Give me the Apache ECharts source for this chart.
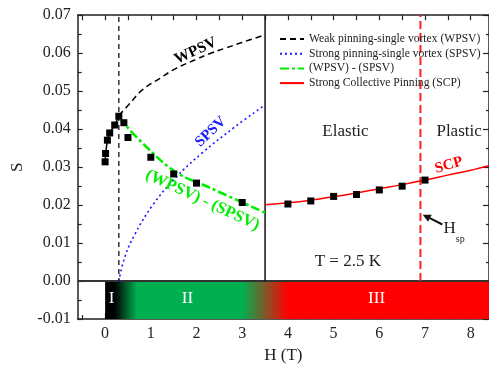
<!DOCTYPE html>
<html><head><meta charset="utf-8">
<script src="https://cdn.jsdelivr.net/npm/echarts@6/dist/echarts.min.js"></script>
<style>html,body{margin:0;padding:0;background:#fff}#c{width:489px;height:369px}</style>
</head><body><div id="c"></div>
<script>
// ---- data ----
const H_low = [0, 0.01, 0.05, 0.1, 0.21, 0.3];
const S_low = [0.0314, 0.0336, 0.0371, 0.0390, 0.0411, 0.0434];
const H_mid = [0.41, 0.5, 1.0, 1.5, 2.0, 3.0];
const S_mid = [0.0417, 0.0378, 0.0326, 0.0282, 0.0258, 0.0207];
const H_high = [4.0, 4.5, 5.0, 5.5, 6.0, 6.5, 7.0];
const S_high = [0.0203, 0.0211, 0.0223, 0.0228, 0.0240, 0.0250, 0.0266];

const H_wpsv = [0.3, 0.5, 0.82, 1.2, 1.55, 2.0, 2.27, 2.6, 2.99, 3.49];
const S_wpsv = [0.0436, 0.0462, 0.0504, 0.0534, 0.0560, 0.0584, 0.0598, 0.0612, 0.0628, 0.0648];
const H_spsv = [0.3, 0.43, 0.65, 1.04, 1.55, 2.12, 2.84, 3.5];
const S_spsv = [0.0, 0.0063, 0.0123, 0.0200, 0.0273, 0.0337, 0.0406, 0.0464];
const H_diff = [0.3, 0.82, 1.55, 2.27, 3.5];
const S_diff = [0.0431, 0.0363, 0.0287, 0.0247, 0.0180];
const H_scp = [3.5, 4, 4.5, 5, 5.5, 6, 6.5, 7, 7.5, 8, 8.4];
const S_scp = [0.0201, 0.0206, 0.0213, 0.0222, 0.0232, 0.0243, 0.0254, 0.0266, 0.0279, 0.0292, 0.0304];

const H_boundary = 3.5;   // elastic boundary
const H_vortex = 0.3;     // dashed black line
const H_sp = 6.9;         // red dashed line

const xMajor = [0, 1, 2, 3, 4, 5, 6, 7, 8];
const xMinor = [-0.5, 0.5, 1.5, 2.5, 3.5, 4.5, 5.5, 6.5, 7.5];
const xTop = [-0.5, 0, 0.5, 1, 1.5, 2, 2.5, 3, 3.5, 4, 4.5, 5, 5.5, 6, 6.5, 7, 7.5, 8];

const legendNames = ['Weak pinning-single vortex (WPSV)', 'Strong pinning-single vortex (SPSV)', '(WPSV) - (SPSV)', 'Strong Collective Pinning (SCP)'];

const X_MIN = -0.6, X_MAX = 8.4, Y_MIN = -0.01, Y_MAX = 0.07;

const zip = (a, b) => a.map((v, i) => [v, b[i]]);
const FONT = "'Liberation Serif', 'Times New Roman', serif";
const AX = '#222';

const chart = echarts.init(document.getElementById('c'), null, {renderer: 'canvas'});

const baseX = {type: 'value', min: X_MIN, max: X_MAX, splitLine: {show: false}, gridIndex: 0};
const option = {
  animation: false,
  backgroundColor: '#fff',
  grid: {left: 77.7, top: 15.2, width: 416.25, height: 311.5, containLabel: false},
  legend: {
    orient: 'vertical', left: 274, top: 28, itemWidth: 24, itemHeight: 10, itemGap: 2.7,
    itemStyle: {opacity: 0},
    data: legendNames, selectedMode: false,
    textStyle: {fontFamily: FONT, fontSize: 11.6, color: AX, lineHeight: 10}
  },
  xAxis: [
    Object.assign({}, baseX, {
      position: 'bottom',
      name: 'H (T)', nameLocation: 'middle', nameGap: 25,
      nameTextStyle: {fontFamily: FONT, fontSize: 17, color: AX},
      axisLine: {show: true, onZero: false, lineStyle: {color: AX, width: 1.5}},
      axisTick: {show: true, inside: true, length: 6, customValues: xMajor, lineStyle: {color: AX, width: 1.2}},
      axisLabel: {show: true, customValues: xMajor, margin: 7, fontFamily: FONT, fontSize: 16, color: AX}
    }),
    Object.assign({}, baseX, {
      position: 'bottom',
      axisLine: {show: false, onZero: false},
      axisTick: {show: true, inside: true, length: 4, customValues: xMinor, lineStyle: {color: AX, width: 1.2}},
      axisLabel: {show: false}
    }),
    Object.assign({}, baseX, {
      position: 'top',
      axisLine: {show: true, onZero: false, lineStyle: {color: AX, width: 1.5}},
      axisTick: {show: true, inside: true, length: 5, customValues: xTop, lineStyle: {color: AX, width: 1.2}},
      axisLabel: {show: false}
    })
  ],
  yAxis: [
    {
      type: 'value', min: Y_MIN, max: Y_MAX, interval: 0.01, position: 'left',
      name: 'S', nameLocation: 'middle', nameGap: 49,
      nameTextStyle: {fontFamily: FONT, fontSize: 17, color: AX},
      splitLine: {show: false},
      axisLine: {show: true, onZero: false, lineStyle: {color: AX, width: 1.5}},
      axisTick: {show: true, inside: true, length: 5, lineStyle: {color: AX, width: 1.2}},
      minorTick: {show: true, splitNumber: 2, length: 4, lineStyle: {color: AX, width: 1.2}},
      axisLabel: {margin: 7, fontFamily: FONT, fontSize: 16, color: AX, formatter: v => v.toFixed(2)}
    },
    {
      type: 'value', min: Y_MIN, max: Y_MAX, interval: 0.01, position: 'right',
      splitLine: {show: false},
      axisLine: {show: true, onZero: false, lineStyle: {color: AX, width: 1.5}},
      axisTick: {show: true, inside: true, length: 6, lineStyle: {color: AX, width: 1.2}},
      minorTick: {show: true, splitNumber: 2, length: 3, lineStyle: {color: AX, width: 1.2}},
      axisLabel: {show: false}
    }
  ],
  series: [
    { // phase band
      type: 'line', name: 'band', data: [[X_MIN, Y_MIN]], symbol: 'none', z: 1, silent: true,
      lineStyle: {width: 0},
      markArea: {
        silent: true,
        itemStyle: {
          opacity: 1,
          color: new echarts.graphic.LinearGradient(0, 0, 1, 0, [
            {offset: 0, color: '#000000'},
            {offset: 0.2 / X_MAX, color: '#000000'},
            {offset: 0.7 / X_MAX, color: '#00b050'},
            {offset: 3.0 / X_MAX, color: '#00b050'},
            {offset: 4.0 / X_MAX, color: '#ff0000'},
            {offset: 1, color: '#ff0000'}
          ])
        },
        data: [[{coord: [0, Y_MIN]}, {coord: [X_MAX, 0]}]]
      }
    },
    {type: 'line', name: 'zero', data: [[X_MIN, 0], [X_MAX, 0]], symbol: 'none', z: 3,
      lineStyle: {color: '#333', width: 2}},
    {type: 'line', name: 'boundary', data: [[H_boundary, 0], [H_boundary, Y_MAX]], symbol: 'none', z: 3,
      lineStyle: {color: '#111', width: 1.5}},
    {type: 'line', name: 'vortex', data: [[H_vortex, Y_MIN], [H_vortex, Y_MAX]], symbol: 'none', z: 4,
      lineStyle: {color: '#111', width: 1.3, type: [5, 4]}},
    {type: 'line', name: 'hsp', data: [[H_sp, 0], [H_sp, Y_MAX]], symbol: 'none', z: 3,
      lineStyle: {color: '#ff2020', width: 2, type: [8, 4]}},
    {type: 'line', name: legendNames[0], data: zip(H_wpsv, S_wpsv), symbol: 'none', smooth: 0.4, z: 5,
      itemStyle: {color: '#000'}, lineStyle: {color: '#000', width: 1.5, type: [6, 4]}},
    {type: 'line', name: legendNames[1], data: zip(H_spsv, S_spsv), symbol: 'none', smooth: 0.4, z: 5,
      itemStyle: {color: '#1a1aff'}, lineStyle: {color: '#1a1aff', width: 1.6, type: [2, 3]}},
    {type: 'line', name: legendNames[2], data: zip(H_diff, S_diff), symbol: 'none', smooth: 0.4, z: 6,
      itemStyle: {color: '#00ee00'}, lineStyle: {color: '#00ee00', width: 2.6, type: [9, 3, 3, 3]}},
    {type: 'line', name: legendNames[3], data: zip(H_scp, S_scp), symbol: 'none', smooth: 0.4, z: 5,
      itemStyle: {color: '#ff0000'}, lineStyle: {color: '#ff0000', width: 1.5}},
    {type: 'line', name: 'lowfit', data: zip(H_low, S_low), symbol: 'none', z: 6,
      lineStyle: {color: '#000', width: 1.5}},
    {type: 'scatter', name: 'data', data: zip(H_low, S_low).concat(zip(H_mid, S_mid), zip(H_high, S_high)),
      symbol: 'rect', symbolSize: 7, z: 8, itemStyle: {color: '#000', opacity: 1}}
  ]
};
chart.setOption(option);

// ---- annotations placed in data coordinates ----
const px = (x, y) => chart.convertToPixel({seriesIndex: 10}, [x, y]);
const deg = d => d * Math.PI / 180;
const labels = [
  {x: 1.98, y: 0.0606, t: 'WPSV', c: '#000', f: 'bold 15.5px ' + FONT, r: 25},
  {x: 2.31, y: 0.0393, t: 'SPSV', c: '#1a1aff', f: 'bold 15px ' + FONT, r: 44},
  {x: 2.13, y: 0.0213, t: '(WPSV) - (SPSV)', c: '#00ee00', f: 'bold 16.5px ' + FONT, r: -25},
  {x: 7.52, y: 0.0305, t: 'SCP', c: '#ff0000', f: 'bold 15px ' + FONT, r: 16},
  {x: 5.26, y: 0.0393, t: 'Elastic', c: '#222', f: '17px ' + FONT, r: 0},
  {x: 7.25, y: 0.0393, t: 'Plastic', c: '#222', f: '17px ' + FONT, r: 0, a: 'left'},
  {x: 5.31, y: 0.0051, t: 'T = 2.5 K', c: '#222', f: '17px ' + FONT, r: 0},
  {x: 7.54, y: 0.0139, t: 'H', c: '#222', f: '17px ' + FONT, r: 0},
  {x: 7.77, y: 0.0111, t: 'sp', c: '#222', f: '10px ' + FONT, r: 0},
  {x: 0.14, y: -0.0046, t: 'I', c: '#fff', f: '17px ' + FONT, r: 0},
  {x: 1.8, y: -0.0046, t: 'II', c: '#fff', f: '17px ' + FONT, r: 0},
  {x: 5.94, y: -0.0046, t: 'III', c: '#fff', f: '17px ' + FONT, r: 0}
];
const g = labels.map(L => {
  const p = px(L.x, L.y);
  return {type: 'text', x: p[0], y: p[1], rotation: deg(L.r), z: 100,
    style: {text: L.t, fill: L.c, font: L.f, textAlign: L.a || 'center', textVerticalAlign: 'middle'}};
});
// arrow pointing at H_sp
const a0 = px(7.38, 0.0149), a1 = px(6.95, 0.0175);
const ang = Math.atan2(a1[1] - a0[1], a1[0] - a0[0]);
const hl = 8, hw = 4;
const bx = a1[0] - hl * Math.cos(ang), by = a1[1] - hl * Math.sin(ang);
g.push({type: 'line', z: 100, shape: {x1: a0[0], y1: a0[1], x2: bx, y2: by}, style: {stroke: '#111', lineWidth: 2}});
g.push({type: 'polygon', z: 100, shape: {points: [
  [a1[0], a1[1]],
  [bx + hw * Math.sin(ang), by - hw * Math.cos(ang)],
  [bx - hw * Math.sin(ang), by + hw * Math.cos(ang)]
]}, style: {fill: '#111'}});
chart.setOption({graphic: {elements: g}});
</script></body></html>
